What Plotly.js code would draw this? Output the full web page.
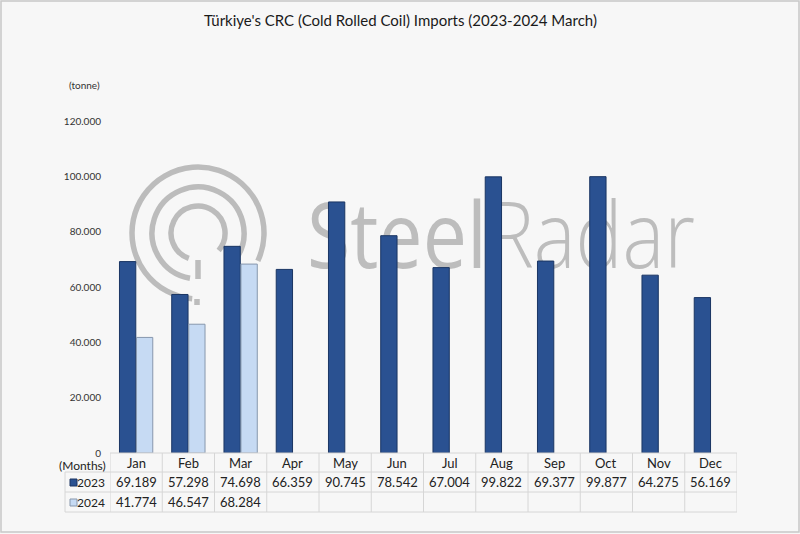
<!DOCTYPE html>
<html>
<head>
<meta charset="utf-8">
<script src="https://cdn.plot.ly/plotly-3.0.1.min.js"></script>
<style>
html,body{margin:0;padding:0;background:#f7f7f7;}
#chart{width:800px;height:534px;}
</style>
</head>
<body>
<div id="chart"></div>
<script>
// ---- data ----
const months = ["Jan","Feb","Mar","Apr","May","Jun","Jul","Aug","Sep","Oct","Nov","Dec"];
const series2023 = [69189,57298,74698,66359,90745,78542,67004,99822,69377,99877,64275,56169];
const series2024 = [41774,46547,68284];
const seriesNames = ["2023","2024"];
const yTicks = [0,20000,40000,60000,80000,100000,120000];
const titleText = "Türkiye's CRC (Cold Rolled Coil) Imports (2023-2024 March)";
const unitLabel = "(tonne)";
const rowHeader = "(Months)";
const watermarkBold = "Steel";
const watermarkLight = "Radar";

// ---- helpers ----
const W = 800, H = 534;
const px = x => x / W;
const py = y => 1 - y / H;
const fmt = v => {
  const s = String(Math.round(v));
  return s.replace(/\B(?=(\d{3})+(?!\d))/g, ".");
};
const FONT = "Lato, 'Open Sans', sans-serif";
const dark = "#2a5191", darkLine = "#1a3563";
const light = "#c6daf3", lightLine = "#8797ad";
const gridCol = "#d6d6d6";

// ---- watermark svg ----
function arcPath(cx, cy, r, a0, a1) {
  const rad = a => a * Math.PI / 180;
  const x0 = cx + r * Math.cos(rad(a0)), y0 = cy + r * Math.sin(rad(a0));
  const x1 = cx + r * Math.cos(rad(a1)), y1 = cy + r * Math.sin(rad(a1));
  const large = ((a1 - a0) % 360) > 180 ? 1 : 0;
  return `M${x0.toFixed(1)},${y0.toFixed(1)} A${r},${r} 0 ${large} 1 ${x1.toFixed(1)},${y1.toFixed(1)}`;
}
const cx = 198, cy = 233;
const wm = `<svg xmlns="http://www.w3.org/2000/svg" width="${W}" height="${H}" viewBox="0 0 ${W} ${H}">
<g fill="none" stroke="#bcbcbc" stroke-width="5.5" stroke-linecap="butt">
<path d="${arcPath(cx, cy, 66, 95, 385)}"/>
<path d="${arcPath(cx, cy, 46, 100, 395)}"/>
<path d="${arcPath(cx, cy, 27, 110, 400)}"/>
<path d="M${cx},${cy+27} L${cx},${cy+46}"/>
<path d="M${cx-1},${cy+66} L${cx-1},${cy+72}"/>
</g>
<text x="307" y="268" font-family="Open Sans, sans-serif" font-size="92" fill="#bdbdbd" textLength="388" lengthAdjust="spacingAndGlyphs"><tspan font-weight="500">${watermarkBold}</tspan><tspan font-weight="300">${watermarkLight}</tspan></text>
</svg>`;
const wmSrc = "data:image/svg+xml;charset=utf-8," + encodeURIComponent(wm);

// ---- table geometry (pixels) ----
const tTop = 453, r1 = 472, r2 = 492, tBot = 512, hdrLeft = 65;

const shapes = [];
const annotations = [];

// outer border
shapes.push({type:"rect", xref:"paper", yref:"paper", x0:px(1), x1:px(799), y0:py(1), y1:py(532),
  line:{color:"#c8c8c8", width:1.5}, fillcolor:"rgba(0,0,0,0)", layer:"below"});

// horizontal table lines
shapes.push({type:"line", xref:"x", yref:"paper", x0:-0.5, x1:months.length-0.5, y0:py(tTop), y1:py(tTop), line:{color:gridCol,width:1}});
[r1, r2, tBot].forEach(y => {
  shapes.push({type:"line", xref:"paper", yref:"paper", x0:px(hdrLeft), x1:px(737), y0:py(y), y1:py(y), line:{color:gridCol,width:1}});
});
// vertical table lines
for (let k = 0; k <= months.length; k++) {
  shapes.push({type:"line", xref:"x", yref:"paper", x0:k-0.5, x1:k-0.5, y0:py(tTop), y1:py(tBot), line:{color:gridCol,width:1}});
}
shapes.push({type:"line", xref:"paper", yref:"paper", x0:px(hdrLeft), x1:px(hdrLeft), y0:py(r1), y1:py(tBot), line:{color:gridCol,width:1}});

// legend keys
shapes.push({type:"rect", xref:"paper", yref:"paper", x0:px(70), x1:px(77), y0:py(479), y1:py(486), fillcolor:dark, line:{color:darkLine,width:1}});
shapes.push({type:"rect", xref:"paper", yref:"paper", x0:px(70), x1:px(77), y0:py(499), y1:py(506), fillcolor:light, line:{color:lightLine,width:1}});

const tf = {family:FONT, size:13, color:"#222"};
const hf = {family:FONT, size:12, color:"#222"};
// header row / cells
months.forEach((m, i) => {
  annotations.push({xref:"x", yref:"paper", x:i, y:py((tTop+r1)/2), text:m, showarrow:false, font:tf, xanchor:"center", yanchor:"middle"});
});
series2023.forEach((v, i) => {
  annotations.push({xref:"x", yref:"paper", x:i, y:py((r1+r2)/2), text:fmt(v), showarrow:false, font:tf, xanchor:"center", yanchor:"middle"});
});
series2024.forEach((v, i) => {
  annotations.push({xref:"x", yref:"paper", x:i, y:py((r2+tBot)/2), text:fmt(v), showarrow:false, font:tf, xanchor:"center", yanchor:"middle"});
});
annotations.push({xref:"paper", yref:"paper", x:px(108), y:py(465), text:rowHeader, showarrow:false, font:hf, xanchor:"right", yanchor:"middle"});
annotations.push({xref:"paper", yref:"paper", x:px(107), y:py((r1+r2)/2), text:seriesNames[0], showarrow:false, font:hf, xanchor:"right", yanchor:"middle"});
annotations.push({xref:"paper", yref:"paper", x:px(107), y:py((r2+tBot)/2), text:seriesNames[1], showarrow:false, font:hf, xanchor:"right", yanchor:"middle"});

// title & unit
annotations.push({xref:"paper", yref:"paper", x:0.5, y:py(20), text:titleText, showarrow:false,
  font:{family:FONT, size:15, color:"#1a1a1a"}, xanchor:"center", yanchor:"middle"});
annotations.push({xref:"paper", yref:"paper", x:px(102), y:py(85), text:unitLabel, showarrow:false,
  font:{family:FONT, size:10, color:"#333"}, xanchor:"right", yanchor:"middle"});

const traces = [
  {type:"bar", name:seriesNames[0], x:months, y:series2023,
   marker:{color:dark, line:{color:darkLine, width:1}}, hoverinfo:"skip"},
  {type:"bar", name:seriesNames[1], x:months.slice(0, series2024.length), y:series2024,
   marker:{color:light, line:{color:lightLine, width:1}}, hoverinfo:"skip"}
];

const layout = {
  width:W, height:H,
  margin:{l:0, r:0, t:0, b:0},
  paper_bgcolor:"#f7f7f7",
  plot_bgcolor:"rgba(0,0,0,0)",
  showlegend:false,
  separators:",.",
  barmode:"group",
  bargap:0.35,
  bargroupgap:0.04,
  font:{family:FONT, color:"#333"},
  xaxis:{type:"category", categoryarray:months, categoryorder:"array",
    domain:[px(110), px(737)], range:[-0.5, months.length-0.5],
    showticklabels:false, showgrid:false, zeroline:false, showline:false, ticks:""},
  yaxis:{domain:[py(tTop), py(121)], range:[0, 120000], tickvals:yTicks,
    tickformat:",", showgrid:false, zeroline:false, showline:false, ticks:"",
    ticklabelstandoff:8, tickfont:{family:FONT, size:10, color:"#333"}},
  images:[{source:wmSrc, xref:"paper", yref:"paper", x:0, y:1, sizex:1, sizey:1,
    xanchor:"left", yanchor:"top", sizing:"stretch", layer:"below"}],
  shapes:shapes,
  annotations:annotations
};

Plotly.newPlot("chart", traces, layout, {staticPlot:true, displayModeBar:false});
</script>
</body>
</html>
